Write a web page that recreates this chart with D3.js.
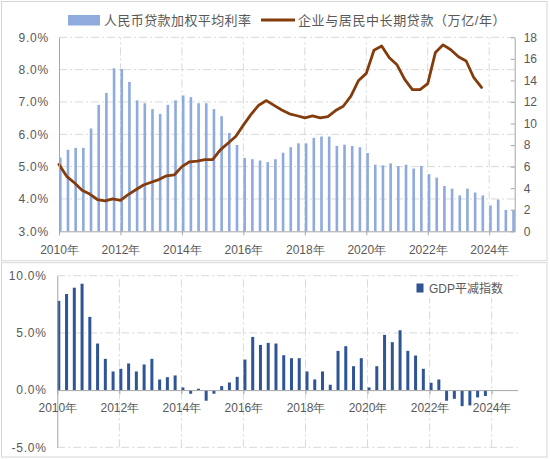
<!DOCTYPE html>
<html>
<head>
<meta charset="utf-8">
<script src="https://cdn.jsdelivr.net/npm/d3@7"></script>
<style>
  html, body { margin: 0; padding: 0; background: #ffffff; }
  svg { display: block; font-family: "Liberation Sans", "Noto Sans CJK SC", sans-serif; }
</style>
</head>
<body>
<svg id="chart" width="550" height="459"></svg>
<script>
// ---- data ----
const yearTicks = [2010, 2012, 2014, 2016, 2018, 2020, 2022, 2024];
const rateTicks = [3, 4, 5, 6, 7, 8, 9];
const loanTicks = [0, 2, 4, 6, 8, 10, 12, 14, 16, 18];
const gdpTicks = [-5, 0, 5, 10];

const rateLabel = "人民币贷款加权平均利率";
const loanLabel = "企业与居民中长期贷款（万亿/年）";
const gdpLabel = "GDP平减指数";

// quarterly, starting 2010 Q1 (%)
const loanRate = [
  5.28, 5.52, 5.58, 5.58, 6.18, 6.91, 7.28, 8.04, 8.02, 7.62,
  7.05, 6.96, 6.78, 6.63, 6.91, 7.05, 7.20, 7.15, 6.96, 6.96,
  6.78, 6.56, 6.04, 5.67, 5.27, 5.23, 5.19, 5.14, 5.23, 5.43,
  5.60, 5.72, 5.72, 5.89, 5.93, 5.93, 5.64, 5.68, 5.64, 5.60,
  5.42, 5.06, 5.04, 5.10, 5.02, 5.06, 4.94, 5.02, 4.77, 4.66,
  4.40, 4.32, 4.11, 4.32, 4.20, 4.11, 3.80, 3.98, 3.66, 3.66
];

// quarterly, starting 2010 Q1 (trillion yuan / year)
const midLongLoans = [
  6.2, 5.1, 4.5, 3.8, 3.45, 2.95, 2.82, 3.0, 2.88, 3.4,
  3.85, 4.3, 4.55, 4.8, 5.15, 5.23, 6.0, 6.45, 6.52, 6.65,
  6.65, 7.55, 8.17, 8.8, 9.85, 10.85, 11.7, 12.13, 11.68, 11.25,
  10.9, 10.72, 10.52, 10.7, 10.52, 10.65, 11.2, 11.6, 12.55, 14.0,
  14.65, 16.8, 17.2, 16.1, 15.45, 14.1, 13.15, 13.15, 13.7, 16.6,
  17.3, 16.85, 16.2, 15.8, 14.25, 13.35
];

// quarterly, starting 2010 Q1 (%)
const gdpDeflator = [
  7.8, 8.4, 8.95, 9.3, 6.4, 4.07, 2.73, 1.63, 1.86, 2.33,
  1.63, 2.24, 2.73, 0.93, 1.13, 1.28, 0.23, -0.32, 0.12, -0.93,
  -0.32, 0.35, 0.67, 1.16, 2.67, 4.65, 3.95, 4.13, 4.07, 3.05,
  2.79, 2.79, 1.63, 0.93, 1.63, 0.47, 3.43, 3.84, 2.09, 2.79,
  0.23, 2.09, 4.83, 4.19, 5.23, 3.43, 3.02, 1.86, 0.64, 0.93,
  -0.93, -0.76, -1.4, -1.34, -0.64, -0.52
];

const START_YEAR = 2010;
const GRID_COLOR = "#d9d9d9";
const GRID_DASH = "8,3,2,3";
const AXIS_COLOR = "#a6a6a6";
const TEXT_COLOR = "#595959";
const RATE_BAR = "#8faadc";
const LOAN_LINE = "#843c0c";
const GDP_BAR = "#2f5597";

const quarterYear = (index) => START_YEAR + index / 4;

const svg = d3.select("#chart");

function styleAxis(group) {
  group.select(".domain").attr("stroke", AXIS_COLOR);
  group.selectAll(".tick line").attr("stroke", AXIS_COLOR);
  group.selectAll(".tick text").attr("fill", TEXT_COLOR).attr("font-size", 12);
}

function drawPanel(y, height) {
  svg.append("rect")
    .attr("x", 1.5).attr("y", y)
    .attr("width", 545.5).attr("height", height)
    .attr("fill", "#ffffff")
    .attr("stroke", "#d6d6d6")
    .attr("stroke-width", 1);
}

function drawGrid(layer, x, y, yValues) {
  const [x0, x1] = x.range();
  const [y0, y1] = y.range();

  layer.append("g")
    .selectAll("line")
    .data(yValues)
    .join("line")
    .attr("x1", x0).attr("x2", x1)
    .attr("y1", (d) => y(d)).attr("y2", (d) => y(d))
    .attr("stroke", GRID_COLOR)
    .attr("stroke-dasharray", GRID_DASH);

  layer.append("g")
    .selectAll("line")
    .data(yearTicks.slice(1))
    .join("line")
    .attr("x1", (d) => x(d)).attr("x2", (d) => x(d))
    .attr("y1", y0).attr("y2", y1)
    .attr("stroke", GRID_COLOR)
    .attr("stroke-dasharray", GRID_DASH);
}

function drawTopChart() {
  const x = d3.scaleLinear().domain([2010, 2024.83]).range([59, 514.7]);
  const yLeft = d3.scaleLinear().domain([3, 9]).range([231.3, 37.3]);
  const yRight = d3.scaleLinear().domain([0, 18]).range([231.3, 37.3]);
  const layer = svg.append("g");

  drawGrid(layer, x, yLeft, rateTicks.slice(1));

  layer.append("g")
    .selectAll("rect")
    .data(loanRate)
    .join("rect")
    .attr("x", (d, i) => x(quarterYear(i)))
    .attr("y", (d) => yLeft(d))
    .attr("width", 2.6)
    .attr("height", (d) => yLeft(3) - yLeft(d))
    .attr("fill", RATE_BAR);

  const line = d3.line()
    .x((d, i) => x(quarterYear(i)))
    .y((d) => yRight(d));

  layer.append("path")
    .datum(midLongLoans)
    .attr("d", line)
    .attr("fill", "none")
    .attr("stroke", LOAN_LINE)
    .attr("stroke-width", 2.8)
    .attr("stroke-linejoin", "round")
    .attr("stroke-linecap", "round");

  const left = layer.append("g")
    .attr("transform", `translate(${x(2010)},0)`)
    .call(d3.axisLeft(yLeft).tickValues(rateTicks).tickSize(0).tickPadding(10)
      .tickFormat((d) => d.toFixed(1) + "%"));
  styleAxis(left);
  left.selectAll(".tick text").attr("letter-spacing", 0.8);

  const right = layer.append("g")
    .attr("transform", `translate(${x.range()[1]},0)`)
    .call(d3.axisRight(yRight).tickValues(loanTicks).tickSizeInner(-4).tickSizeOuter(0).tickPadding(9));
  styleAxis(right);

  const bottom = layer.append("g")
    .attr("transform", `translate(0,${yLeft(3)})`)
    .call(d3.axisBottom(x).tickValues(yearTicks).tickSizeInner(4).tickSizeOuter(0).tickPadding(10)
      .tickFormat((d) => d + "年"));
  styleAxis(bottom);

  // legend
  const legend = layer.append("g").attr("font-size", 13).attr("fill", TEXT_COLOR);
  legend.append("rect")
    .attr("x", 68).attr("y", 15).attr("width", 32).attr("height", 10.5)
    .attr("fill", RATE_BAR);
  legend.append("text")
    .attr("x", 104).attr("y", 24.5)
    .attr("letter-spacing", 0.4)
    .text(rateLabel);
  legend.append("line")
    .attr("x1", 261).attr("x2", 295).attr("y1", 20).attr("y2", 20)
    .attr("stroke", LOAN_LINE).attr("stroke-width", 3);
  legend.append("text")
    .attr("x", 298).attr("y", 24.5)
    .attr("letter-spacing", 0.6)
    .text(loanLabel);
}

function drawBottomChart() {
  const x = d3.scaleLinear().domain([2010, 2024.84]).range([57.3, 517.7]);
  const y = d3.scaleLinear().domain([-5, 10]).range([447.3, 275.7]);
  const layer = svg.append("g");

  drawGrid(layer, x, y, gdpTicks.filter((d) => d !== 0));

  // legend box sits over the grid
  layer.append("rect")
    .attr("x", 412).attr("y", 279).attr("width", 98).attr("height", 19)
    .attr("fill", "#ffffff");
  layer.append("rect")
    .attr("x", 416.5).attr("y", 283.5).attr("width", 7).attr("height", 9)
    .attr("fill", GDP_BAR);
  layer.append("text")
    .attr("x", 429).attr("y", 292.5)
    .attr("font-size", 12)
    .attr("fill", TEXT_COLOR)
    .text(gdpLabel);

  layer.append("g")
    .selectAll("rect")
    .data(gdpDeflator)
    .join("rect")
    .attr("x", (d, i) => x(quarterYear(i)))
    .attr("y", (d) => y(Math.max(0, d)))
    .attr("width", 3)
    .attr("height", (d) => Math.abs(y(d) - y(0)))
    .attr("fill", GDP_BAR);

  const left = layer.append("g")
    .attr("transform", `translate(${x(2010)},0)`)
    .call(d3.axisLeft(y).tickValues(gdpTicks).tickSize(0).tickPadding(10.5)
      .tickFormat((d) => d.toFixed(1) + "%"));
  styleAxis(left);
  left.selectAll(".tick text").attr("letter-spacing", 0.8);

  const bottom = layer.append("g")
    .attr("transform", `translate(0,${y(0)})`)
    .call(d3.axisBottom(x).tickValues(yearTicks).tickSizeInner(4).tickSizeOuter(0).tickPadding(9.5)
      .tickFormat((d) => d + "年"));
  styleAxis(bottom);
}

drawPanel(1.5, 259.2);
drawPanel(262.7, 194.3);
drawTopChart();
drawBottomChart();
</script>
</body>
</html>
